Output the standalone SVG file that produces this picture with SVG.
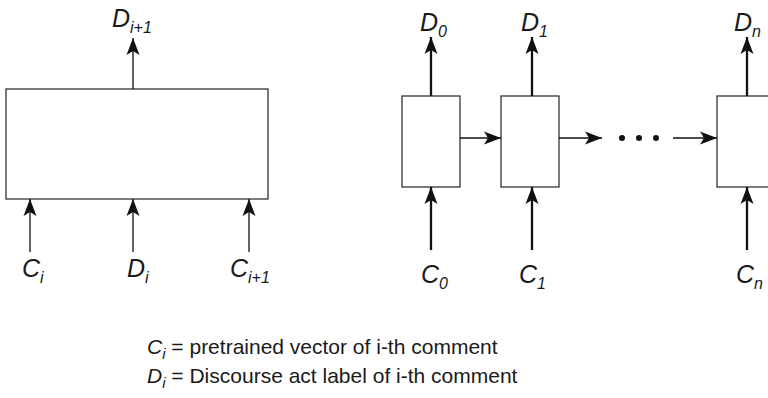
<svg xmlns="http://www.w3.org/2000/svg" width="768" height="398" viewBox="0 0 768 398">
  <style>
    .box { fill: #ffffff; stroke: #333333; stroke-width: 1.3; }
    .thin { stroke: #111111; stroke-width: 1.3; fill: none; }
    .thick { stroke: #111111; stroke-width: 2.3; fill: none; }
    .lbl { font-family: "Liberation Sans", Arial, sans-serif; font-style: italic; font-size: 25px; fill: #1a1a1a; }
    .sub { font-size: 16px; }
    .legend { font-family: "Liberation Sans", Arial, sans-serif; font-size: 21px; fill: #1a1a1a; }
    .var { font-style: italic; }
  </style>
  <defs>
    <marker id="head" markerUnits="userSpaceOnUse" markerWidth="20" markerHeight="16" viewBox="-18 -8 19 16" refX="0" refY="0" orient="auto">
      <path d="M0,0 L-17,-6.5 L-13,0 L-17,6.5 Z" fill="#111111"/>
    </marker>
  </defs>

  <!-- single-step model: one box fed by C_i, D_i, C_{i+1} -->
  <g id="step-box">
    <rect class="box" x="6" y="89" width="262" height="110"/>
  </g>

  <!-- sequence model: one cell per comment -->
  <g id="cell-0">
    <rect class="box" x="402" y="96" width="58" height="91"/>
  </g>
  <g id="cell-1">
    <rect class="box" x="501" y="96" width="58" height="91"/>
  </g>
  <g id="cell-n">
    <rect class="box" x="717" y="96" width="70" height="91"/>
  </g>
  <g id="ellipsis">
    <circle cx="622" cy="138" r="3" fill="#111111"/>
    <circle cx="639" cy="138" r="3" fill="#111111"/>
    <circle cx="656" cy="138" r="3" fill="#111111"/>
  </g>

  <g id="connectors">
    <!-- step box -->
    <line class="thin" x1="133" y1="89" x2="133" y2="38" marker-end="url(#head)"/>
    <line class="thin" x1="30" y1="252" x2="30" y2="199" marker-end="url(#head)"/>
    <line class="thin" x1="133" y1="252" x2="133" y2="199" marker-end="url(#head)"/>
    <line class="thin" x1="249" y1="252" x2="249" y2="199" marker-end="url(#head)"/>
    <!-- sequence outputs -->
    <line class="thick" x1="431" y1="96" x2="431" y2="37" marker-end="url(#head)"/>
    <line class="thick" x1="532" y1="96" x2="532" y2="37" marker-end="url(#head)"/>
    <line class="thick" x1="747" y1="96" x2="747" y2="37" marker-end="url(#head)"/>
    <!-- sequence inputs -->
    <line class="thick" x1="431" y1="250" x2="431" y2="187" marker-end="url(#head)"/>
    <line class="thick" x1="532" y1="250" x2="532" y2="187" marker-end="url(#head)"/>
    <line class="thick" x1="747" y1="250" x2="747" y2="187" marker-end="url(#head)"/>
    <!-- recurrent links -->
    <line class="thin" x1="460" y1="138" x2="501" y2="138" marker-end="url(#head)"/>
    <line class="thin" x1="559" y1="138" x2="602" y2="138" marker-end="url(#head)"/>
    <line class="thin" x1="673" y1="138" x2="717" y2="138" marker-end="url(#head)"/>
  </g>

  <!-- labels -->
  <g id="labels">
    <text class="lbl" x="112" y="27">D<tspan class="sub" dy="6">i+1</tspan></text>
    <text class="lbl" x="22" y="277">C<tspan class="sub" dy="6">i</tspan></text>
    <text class="lbl" x="127" y="277">D<tspan class="sub" dy="6">i</tspan></text>
    <text class="lbl" x="230" y="277">C<tspan class="sub" dy="6">i+1</tspan></text>

    <text class="lbl" x="420" y="31">D<tspan class="sub" dy="6">0</tspan></text>
    <text class="lbl" x="521" y="31">D<tspan class="sub" dy="6">1</tspan></text>
    <text class="lbl" x="734" y="31">D<tspan class="sub" dy="6">n</tspan></text>
    <text class="lbl" x="421" y="283">C<tspan class="sub" dy="6">0</tspan></text>
    <text class="lbl" x="519" y="283">C<tspan class="sub" dy="6">1</tspan></text>
    <text class="lbl" x="736" y="283">C<tspan class="sub" dy="6">n</tspan></text>
  </g>

  <g id="legend">
    <text class="legend" x="147" y="354"><tspan class="var">C</tspan><tspan class="var" font-size="15" dy="5">i</tspan><tspan dy="-5"> = pretrained vector of i-th comment</tspan></text>
    <text class="legend" x="147" y="383"><tspan class="var">D</tspan><tspan class="var" font-size="15" dy="5">i</tspan><tspan dy="-5"> = Discourse act label of i-th comment</tspan></text>
  </g>
</svg>
